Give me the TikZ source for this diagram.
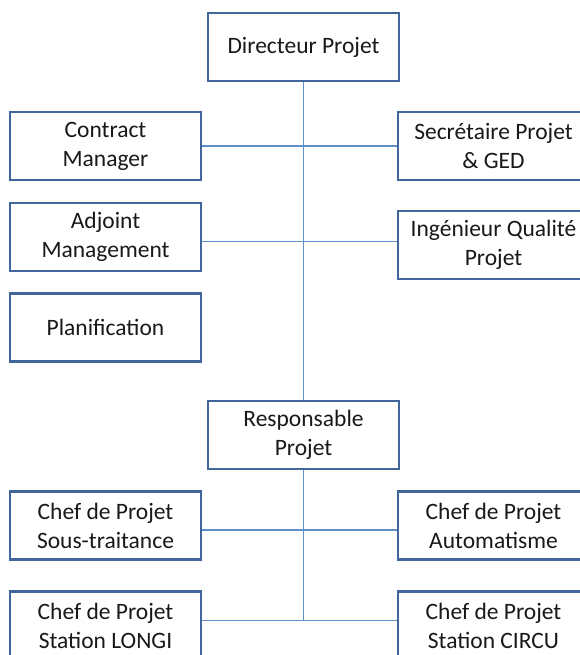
\documentclass[tikz,border=0pt]{standalone}
\usepackage{fontspec}
\setmainfont{Carlito}
\definecolor{boxline}{HTML}{41679A}
\definecolor{linkline}{HTML}{5F8FCB}
\tikzset{
  orgbox/.style={draw=boxline, line width=2.4pt, fill=white, minimum width=191pt, minimum height=68pt,
    inner sep=0pt, align=center, font=\fontsize{23.5}{29}\selectfont, text=black!90},
  link/.style={draw=linkline, line width=1.3pt}
}
\begin{document}
\begin{tikzpicture}[x=1pt,y=-1pt]
\useasboundingbox (0,0) rectangle (580,655);
\clip (0,0) rectangle (580,655);
\fill[white] (0,0) rectangle (580,655);
% boxes
\node[orgbox] (dir) at (303.5,47) {Directeur Projet};
\node[orgbox] (cm) at (105.5,146) {Contract\\Manager};
\node[orgbox] (sec) at (493.5,146) {Secrétaire Projet\\\& GED};
\node[orgbox] (adj) at (105.5,237) {Adjoint\\Management};
\node[orgbox] (ing) at (493.5,245) {Ingénieur Qualité\\Projet};
\node[orgbox] (plan) at (105.5,327.5) {Planification};
\node[orgbox] (resp) at (303.5,435) {Responsable\\Projet};
\node[orgbox] (sous) at (105.5,525.5) {Chef de Projet\\Sous-traitance};
\node[orgbox] (auto) at (493.5,525.5) {Chef de Projet\\Automatisme};
\node[orgbox] (longi) at (105.5,625.5) {Chef de Projet\\Station LONGI};
\node[orgbox] (circu) at (493.5,625.5) {Chef de Projet\\Station CIRCU};
% connectors
\coordinate (b1) at (303.5,241.5);
\coordinate (b2) at (303.5,530);
\coordinate (b3) at (303.5,620.5);
\begin{scope}[on background layer/.try]
\end{scope}
\draw[link] (dir.south) -- (resp.north);
\draw[link] (resp.south) -- (b3);
\draw[link] (cm.east) -- (sec.west);
\draw[link] (adj.east |- b1) -- (ing.west |- b1);
\draw[link] (sous.east |- b2) -- (auto.west |- b2);
\draw[link] (longi.east |- b3) -- (circu.west |- b3);
\end{tikzpicture}
\end{document}
